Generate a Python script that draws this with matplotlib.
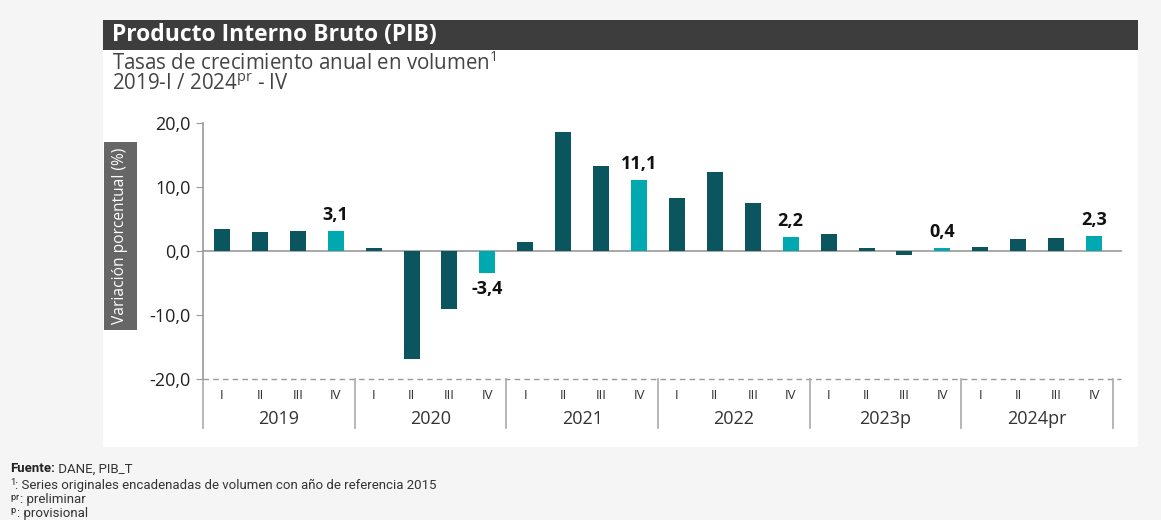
import matplotlib
matplotlib.use("Agg")
import matplotlib.pyplot as plt
from matplotlib.patches import Rectangle
import matplotlib.transforms as mtransforms

plt.rcParams['font.family'] = ['Open Sans', 'DejaVu Sans']
plt.rcParams['mathtext.default'] = 'regular'

years = ['2019', '2020', '2021', '2022', '2023p', '2024pr']
quarters = ['I', 'II', 'III', 'IV']
values = [3.4, 3.0, 3.2, 3.1,
          0.4, -16.8, -9.0, -3.4,
          1.4, 18.6, 13.3, 11.1,
          8.3, 12.3, 7.5, 2.2,
          2.6, 0.5, -0.6, 0.4,
          0.6, 1.9, 2.0, 2.3]
yticks = [-20, -10, 0, 10, 20]

dark = '#0b555e'
light = '#00a9b0'

W, H = 1161, 520
fig = plt.figure(figsize=(W / 100, H / 100), dpi=100)
fig.patch.set_facecolor('#f5f5f5')

def fx(px):
    return px / W

def fy(py):
    return 1 - py / H

# white panel and title bar
fig.patches.append(Rectangle((fx(103), fy(447)), fx(1138 - 103), (447 - 50) / H,
                             transform=fig.transFigure, facecolor='white', edgecolor='none', zorder=0))
fig.patches.append(Rectangle((fx(103), fy(50)), fx(1138 - 103), 30 / H,
                             transform=fig.transFigure, facecolor='#3d3d3d', edgecolor='none', zorder=0))
fig.text(fx(112), fy(35), 'Producto Interno Bruto (PIB)', color='white', fontsize=16.5,
         fontweight='bold', va='center', ha='left')
fig.text(fx(112), fy(63), 'Tasas de crecimiento anual en volumen$^{1}$', color='#444444',
         fontsize=14.8, va='center', ha='left')
fig.text(fx(112), fy(84), '2019-I / 2024$^{pr}$ - IV', color='#444444',
         fontsize=14.8, va='center', ha='left')

# y label box
fig.patches.append(Rectangle((fx(104), fy(330)), fx(33), (330 - 142) / H,
                             transform=fig.transFigure, facecolor='#666666', edgecolor='none', zorder=1))
fig.text(fx(120.5), fy(236), 'Variación porcentual (%)', color='white', fontsize=11.2,
         rotation=90, va='center', ha='center')

ax = fig.add_axes([fx(203), fy(379), fx(1113 - 203), (379 - 123) / H])
ax.set_facecolor('none')
ax.set_zorder(5)

n = len(values)
xs = list(range(n))
colors = [light if i % 4 == 3 else dark for i in xs]
ax.bar(xs, values, width=0.42, color=colors, zorder=3)

ax.set_xlim(-0.5, n - 0.5)
ax.set_ylim(-20, 20)
ax.set_yticks(yticks)
ax.set_yticklabels([f'{v:.1f}'.replace('.', ',') for v in yticks], fontsize=13, color='#222222')
ax.tick_params(axis='y', length=5, color='#999999', pad=4)
ax.set_xticks([])
for s in ['top', 'right', 'bottom']:
    ax.spines[s].set_visible(False)
ax.spines['left'].set_color('#999999')
ax.spines['left'].set_linewidth(1.2)

ax.plot([-0.5, n - 0.3], [0, 0], color='#999999', lw=1.2, zorder=2, clip_on=False)
ax.plot([-0.5, n - 0.3], [-20, -20], color='#999999', lw=1, ls=(0, (4, 3)), zorder=2, clip_on=False)

# value labels on the IV quarters
for i in xs:
    if i % 4 == 3:
        v = values[i]
        lbl = f'{v:.1f}'.replace('.', ',')
        if v >= 0:
            ax.annotate(lbl, (i, v), xytext=(0, 5), textcoords='offset points', ha='center',
                        va='bottom', fontsize=13, fontweight='bold', color='#111111')
        else:
            ax.annotate(lbl, (i, v), xytext=(0, -5), textcoords='offset points', ha='center',
                        va='top', fontsize=13, fontweight='bold', color='#111111')

# two-level category axis
trans = mtransforms.blended_transform_factory(ax.transData, ax.transAxes)
for i in xs:
    ax.text(i, -0.064, quarters[i % 4], transform=trans, ha='center', va='center',
            fontsize=9.5, color='#333333')
for k, yr in enumerate(years):
    ax.text(4 * k + 1.5, -0.158, yr, transform=trans, ha='center', va='center',
            fontsize=13, color='#333333')
for k in range(len(years) + 1):
    ax.plot([4 * k - 0.5, 4 * k - 0.5], [0, -0.19], transform=trans, color='#aaaaaa',
            lw=1.2, clip_on=False)

# footnotes
notes = [('Fuente:', ' DANE, PIB_T'),
         ('$^{1}$', ': Series originales encadenadas de volumen con año de referencia 2015'),
         ('$^{pr}$', ': preliminar'),
         ('$^{p}$', ': provisional')]
ypos = [469, 485, 500, 513]
for (a, b), py in zip(notes, ypos):
    t = fig.text(fx(10), fy(py), a, fontsize=9.5, color='#222222', va='center', ha='left',
                 family='Roboto', fontweight='bold' if a == 'Fuente:' else 'normal')
    fig.canvas.draw()
    bb = t.get_window_extent()
    fig.text(bb.x1 / W, fy(py), b, fontsize=9.5, color='#333333', va='center', ha='left',
             family='Roboto')

fig.savefig('out.png', dpi=100, facecolor=fig.get_facecolor())
